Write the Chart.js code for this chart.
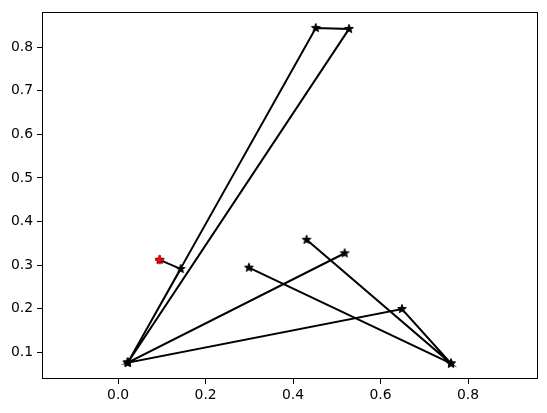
<!DOCTYPE html>
<html>
<head>
<meta charset="utf-8">
<script src="https://cdn.jsdelivr.net/npm/chart.js@4"></script>
<style>
  html, body { margin: 0; padding: 0; background: #fff; }
  #wrap { width: 547px; height: 413px; }
</style>
</head>
<body>
<div id="wrap"><canvas id="c" width="547" height="413"></canvas></div>
<script>
// ---- data ----
const xs = [0.095, 0.143, 0.022, 0.452, 0.528, 0.022, 0.518, 0.022, 0.649, 0.761, 0.431, 0.761, 0.299];
const ys = [0.312, 0.291, 0.076, 0.844, 0.842, 0.076, 0.327, 0.076, 0.199, 0.074, 0.358, 0.074, 0.294];
const startX = [0.095];
const startY = [0.312];
const xTickValues = [0.0, 0.2, 0.4, 0.6, 0.8];
const yTickValues = [0.1, 0.2, 0.3, 0.4, 0.5, 0.6, 0.7, 0.8];
const xLimits = [-0.174, 0.960];
const yLimits = [0.0384, 0.880];

// ---- filled five-point star marker (matplotlib '*') ----
function makeStar(color) {
  const s = 12, c = document.createElement('canvas');
  c.width = s; c.height = s;
  const g = c.getContext('2d');
  const R = 4.6, r = 1.9, cx = s / 2, cy = s / 2;
  g.beginPath();
  for (let i = 0; i < 10; i++) {
    const rad = (i % 2 === 0) ? R : r;
    const a = -Math.PI / 2 + i * Math.PI / 5;
    const px = cx + rad * Math.cos(a), py = cy + rad * Math.sin(a);
    if (i === 0) g.moveTo(px, py); else g.lineTo(px, py);
  }
  g.closePath();
  g.fillStyle = color; g.fill();
  g.lineWidth = 1; g.strokeStyle = color; g.stroke();
  return c;
}
const starImg = makeStar('#000000');

const pathPoints = xs.map((x, i) => ({ x: x, y: ys[i] }));
const startPoints = startX.map((x, i) => ({ x: x, y: startY[i] }));

const framePlugin = {
  id: 'frame',
  afterDraw(chart) {
    const a = chart.chartArea, g = chart.ctx;
    g.save();
    g.strokeStyle = '#000';
    g.lineWidth = 1;
    g.strokeRect(Math.round(a.left) + 0.5, Math.round(a.top) + 0.5,
                 Math.round(a.right - a.left) - 1, Math.round(a.bottom - a.top) - 1);
    g.restore();
  }
};

const tickFont = { family: 'DejaVu Sans', size: 13.9 };

new Chart(document.getElementById('c'), {
  type: 'scatter',
  data: {
    datasets: [
      {
        data: startPoints,
        showLine: false,
        pointStyle: 'cross',
        pointRadius: 4.5,
        pointBorderWidth: 2.5,
        borderColor: '#ff0000',
        backgroundColor: '#ff0000',
        order: 0
      },
      {
        data: pathPoints,
        showLine: true,
        borderColor: '#000000',
        borderWidth: 2,
        pointStyle: starImg,
        pointRadius: 5,
        order: 1
      }
    ]
  },
  options: {
    responsive: false,
    animation: false,
    events: [],
    layout: { padding: { left: 0, right: 9, top: 10, bottom: 0 } },
    plugins: { legend: { display: false }, tooltip: { enabled: false } },
    scales: {
      x: {
        type: 'linear',
        min: xLimits[0], max: xLimits[1],
        afterBuildTicks: s => { s.ticks = xTickValues.map(v => ({ value: v })); },
        afterFit: s => { s.height = 34; },
        grid: { drawOnChartArea: false, drawTicks: true, tickLength: 5, tickWidth: 1, tickColor: '#000' },
        border: { display: false },
        ticks: { color: '#000', font: tickFont, padding: 3, maxRotation: 0,
                 callback: v => Number(v).toFixed(1) }
      },
      y: {
        type: 'linear',
        min: yLimits[0], max: yLimits[1],
        afterBuildTicks: s => { s.ticks = yTickValues.map(v => ({ value: v })); },
        afterFit: s => { s.width = 42; },
        grid: { drawOnChartArea: false, drawTicks: true, tickLength: 5, tickWidth: 1, tickColor: '#000' },
        border: { display: false },
        ticks: { color: '#000', font: tickFont, padding: 4,
                 callback: v => Number(v).toFixed(1) }
      }
    }
  },
  plugins: [framePlugin]
});
</script>
</body>
</html>
